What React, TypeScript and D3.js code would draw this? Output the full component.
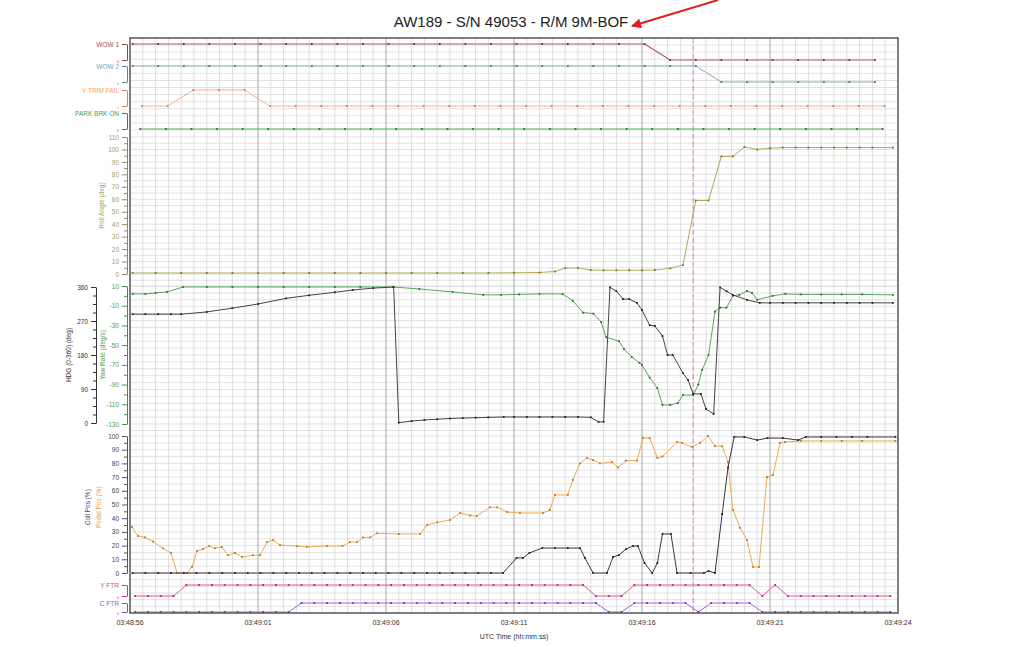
import React, { useEffect, useRef } from "react";
import * as d3 from "d3";

const TITLE = "AW189 - S/N 49053 - R/M 9M-BOF";
const X_TICKS = [0, 5, 10, 15, 20, 25, 30];
const X_TICK_LABELS = ["03:48:56", "03:49:01", "03:49:06", "03:49:11", "03:49:16", "03:49:21", "03:49:24"];
const X_TITLE = "UTC Time (hh:mm:ss)";
const EVENT_T = 22;

// discrete signals, 1 Hz (start time, values)
const WOW1_T0 = 0.1;
const WOW1 = [1,1,1,1,1,1,1,1,1,1,1,1,1,1,1,1,1,1,1,1,1,0,0,0,0,0,0,0,0,0];
const WOW2_T0 = 0.1;
const WOW2 = [1,1,1,1,1,1,1,1,1,1,1,1,1,1,1,1,1,1,1,1,1,1,1,0,0,0,0,0,0,0];
const YTRIM_T0 = 0.47;
const YTRIM = [0,0,1,1,1,0,0,0,0,0,0,0,0,0,0,0,0,0,0,0,0,0,0,0,0,0,0,0,0,0];
const PARK_T0 = 0.4;
const PARK = [0,0,0,0,0,0,0,0,0,0,0,0,0,0,0,0,0,0,0,0,0,0,0,0,0,0,0,0,0,0];
// discrete signals, 2 Hz
const FTR_T0 = 0.2;
const YFTR = [0,0,0,0,1,1,1,1,1,1,1,1,1,1,1,1,1,1,1,1,1,1,1,1,1,1,1,1,1,1,1,1,1,1,1,1,0,0,0,1,1,1,1,1,1,1,1,1,1,0,1,0,0,0,0,0,0,0,0,0];
const CFTR = [0,0,0,0,0,0,0,0,0,0,0,0,0,1,1,1,1,1,1,1,1,1,1,1,1,1,1,1,1,1,1,1,1,1,1,1,1,0,0,1,1,1,1,1,0,1,1,1,1,0,0,0,0,0,0,0,0,0,0,0];

// continuous signals [t (s), value]
const ROLL: [number, number][] = [
  [0.1,0.8],[1,0.8],[2,0.8],[3,0.8],[4,0.8],[5,0.8],[6,0.8],[7,0.8],[8,0.8],[9,0.8],[10,0.8],[11,0.8],[12,0.8],[13,0.8],[14,0.8],[15,1],[16,1.2],[16.6,2],[17.0,4.8],[17.5,4.8],[18.0,3.2],[18.5,3],[19,3],[19.5,3],[20,3],[20.5,3.2],[21.1,4.5],[21.6,7.2],[22.1,59],[22.6,59],[23.1,94.4],[23.55,94.4],[24.0,102],[24.5,100],[25.0,101],[25.5,101.5],[26,101.5],[26.5,101.5],[27,101.5],[27.5,101.5],[28,101.5],[28.5,101.5],[29,101.5],[29.8,101.5]
];
const HDG: [number, number][] = [
  [0.1,288],[0.6,288],[1.1,288],[1.6,288],[2.0,288],[3.0,294],[4.0,304],[5.0,315],[6.1,330],[7.0,338],[8.0,346],[8.7,352],[9.5,357],[10.3,360],[10.5,1],[11.0,5],[11.5,8],[12.0,10],[12.5,12],[13.0,13],[13.5,14],[14.0,15],[14.6,16],[15.0,16],[15.5,16],[16.0,16],[16.5,16],[17.0,16],[17.5,16],[18.0,15],[18.3,3],[18.5,3],[18.75,359],[19.0,349],[19.26,328],[19.5,328],[19.8,318],[20.0,299],[20.3,259],[20.5,257],[20.8,230],[21.0,180],[21.2,180],[21.6,132],[21.8,114],[22.0,77],[22.3,77],[22.5,37],[22.8,24],[23.05,359],[23.3,349],[23.55,339],[24.1,326],[24.6,318],[25.0,318],[25.5,318],[26,318],[26.5,318],[27,318],[27.5,318],[28,318],[28.5,318],[29,318],[29.8,318]
];
const YAW: [number, number][] = [
  [0.1,2],[0.6,2],[1.0,3],[1.45,4],[2.07,9],[3,9],[4,9],[5,9],[6,9],[7,9],[8,9],[9,9],[10.27,9],[11.3,7],[12.6,4],[13.8,1],[14.5,1],[15.2,1.5],[16.0,2],[16.9,2],[17.3,-5],[17.7,-17],[18.1,-18],[18.4,-26.5],[18.6,-42],[19.1,-46],[19.3,-54],[19.6,-62],[19.9,-68],[20.0,-70],[20.3,-83],[20.6,-93.5],[20.8,-110.7],[21.1,-110.7],[21.4,-108.7],[21.6,-100.6],[22.0,-100.6],[22.2,-90],[22.35,-75],[22.6,-60],[22.85,-16],[23.05,-12],[23.3,-12],[23.55,0],[23.8,1],[24.1,5],[24.3,3],[24.5,-4],[25.1,0],[25.6,2],[26.2,1.5],[27,1.5],[27.8,1.5],[28.6,1.5],[29.8,1]
];
const PEDAL: [number, number][] = [
  [0.08,33.6],[0.31,27],[0.59,26],[0.9,23],[1.29,18],[1.6,14.6],[1.84,0],[2.23,0],[2.42,4.4],[2.62,16],[2.85,17.5],[3.09,19.7],[3.32,18],[3.59,19],[3.83,13],[4.1,14.6],[4.38,11.7],[4.8,13],[5.08,13],[5.35,22.6],[5.59,24],[5.86,20.4],[6.52,19.7],[6.91,19],[7.7,19.7],[8.3,19.7],[8.59,22.6],[8.87,22.6],[9.1,26],[9.38,26],[9.65,29],[10.5,28.5],[11.33,28.5],[11.6,35],[12.0,37],[12.5,38.7],[12.9,43.8],[13.28,42],[13.55,41.6],[14.06,48],[14.34,48],[14.73,44.5],[15.23,43.8],[16.13,43.8],[16.4,46],[16.6,57],[17.1,57],[17.3,68],[17.58,80],[17.85,84],[18.09,82.5],[18.36,80],[18.83,81],[19.06,77],[19.38,82],[19.8,82],[20.04,98.5],[20.3,98.5],[20.6,84],[20.8,85],[21.37,95.6],[21.56,95],[21.95,92],[22.27,95],[22.58,100],[22.85,92.7],[23.13,92.7],[23.36,81],[23.55,46],[23.83,33],[24.1,24],[24.34,4.4],[24.57,4.4],[24.88,70],[25.12,71.5],[25.39,95],[25.59,95.6],[26.2,96.4],[27,96.4],[27.8,96.4],[28.6,96.4],[29.9,96.4]
];
const COLL: [number, number][] = [
  [0.1,0],[0.6,0],[1.1,0],[1.6,0],[2.1,0],[2.6,0],[3.1,0],[3.6,0],[4.1,0],[4.6,0],[5.1,0],[5.6,0],[6.1,0],[6.6,0],[7.1,0],[7.6,0],[8.1,0],[8.6,0],[9.1,0],[9.6,0],[10.1,0],[10.6,0],[11.1,0],[11.6,0],[12.1,0],[12.6,0],[13.1,0],[13.6,0],[14.1,0],[14.57,0],[15.1,11],[15.35,11],[15.6,14.6],[16.1,18.2],[16.6,18.2],[17.1,18.2],[17.58,18.2],[17.77,11],[18.09,0],[18.63,0],[18.87,11.7],[19.1,13.1],[19.38,17.5],[19.65,19.7],[19.84,19.7],[20.1,7.3],[20.4,0],[20.6,7.3],[20.8,28.5],[21.13,28.5],[21.37,0],[21.9,0],[22.42,0],[22.6,1.5],[22.85,0],[23.13,43],[23.36,77],[23.6,99.3],[24.0,99.3],[24.5,97],[24.9,98.5],[25.5,98.5],[26.1,97],[26.4,99.3],[27,99.3],[27.6,99.3],[28.2,99.3],[28.8,99.3],[29.9,99.3]
];

const FONT = "'Liberation Sans', Arial, sans-serif";
const PL = 130, PR = 898, PT = 38, PB = 613;

export default function App() {
  const ref = useRef<SVGSVGElement>(null);

  useEffect(() => {
    const svg = d3.select(ref.current);
    svg.selectAll("*").remove();
    svg.style("font-family", FONT);

    const x = d3.scaleLinear().domain([0, 30]).range([PL, PR]);

    const yWow1 = d3.scaleLinear().domain([0, 1]).range([60, 44]);
    const yWow2 = d3.scaleLinear().domain([0, 1]).range([82, 66]);
    const yTrim = d3.scaleLinear().domain([0, 1]).range([106, 90]);
    const yPark = d3.scaleLinear().domain([0, 1]).range([129, 113]);
    const yRoll = d3.scaleLinear().domain([0, 110]).range([274, 137]);
    const yHdg = d3.scaleLinear().domain([0, 360]).range([423, 287]);
    const yYaw = d3.scaleLinear().domain([-130, 10]).range([424, 286]);
    const yPos = d3.scaleLinear().domain([0, 100]).range([573, 436]);
    const yYftr = d3.scaleLinear().domain([0, 1]).range([596, 585]);
    const yCftr = d3.scaleLinear().domain([0, 1]).range([612, 603]);
    const yTopGrid = d3.scaleLinear().domain([0, 14]).range([PT, 137]);
    const yBotGrid = d3.scaleLinear().domain([0, 6]).range([573, PB]);

    const g = svg.append("g");

    // Horizontal grid
    const hLines: number[] = [];
    d3.range(1, 14).forEach((i) => hLines.push(yTopGrid(i)));
    d3.range(0, 111, 5).forEach((v) => hLines.push(yRoll(v)));
    hLines.push(yRoll(-5), yRoll(-10));
    d3.range(-130, 11, 7).forEach((v) => hLines.push(yYaw(v)));
    hLines.push(yPos(104));
    d3.range(0, 101, 5).forEach((v) => hLines.push(yPos(v)));
    d3.range(1, 6).forEach((i) => hLines.push(yBotGrid(i)));
    g.append("g")
      .selectAll("line")
      .data(hLines)
      .join("line")
      .attr("x1", PL).attr("x2", PR)
      .attr("y1", (d) => d).attr("y2", (d) => d)
      .attr("stroke", "#d6d6d6").attr("stroke-width", 0.7);

    // vertical grid
    g.append("g")
      .selectAll("line")
      .data(d3.range(0.5, 30, 0.5).filter((t) => t % 5 !== 0))
      .join("line")
      .attr("x1", (d) => x(d)).attr("x2", (d) => x(d))
      .attr("y1", PT).attr("y2", PB)
      .attr("stroke", "#d0d0d0").attr("stroke-width", 0.7);
    g.append("g")
      .selectAll("line")
      .data([5, 10, 15, 20, 25])
      .join("line")
      .attr("x1", (d) => x(d)).attr("x2", (d) => x(d))
      .attr("y1", PT).attr("y2", PB)
      .attr("stroke", "#9c9c9c").attr("stroke-width", 0.9);

    // event dashed line
    g.append("line")
      .attr("x1", x(EVENT_T)).attr("x2", x(EVENT_T))
      .attr("y1", PT).attr("y2", PB)
      .attr("stroke", "#e07cc4").attr("stroke-width", 1)
      .attr("stroke-dasharray", "5,3");

    // series drawing helper
    const drawSeries = (
      pts: [number, number][],
      ys: d3.ScaleLinear<number, number>,
      color: string,
      marker: string,
      width = 1
    ) => {
      const line = d3.line<[number, number]>().x((d) => x(d[0])).y((d) => ys(d[1]));
      g.append("path")
        .attr("d", line(pts))
        .attr("fill", "none")
        .attr("stroke", color)
        .attr("stroke-width", width)
        .attr("stroke-linejoin", "round");
      g.append("g")
        .selectAll("rect")
        .data(pts)
        .join("rect")
        .attr("x", (d) => x(d[0]) - 0.9)
        .attr("y", (d) => ys(d[1]) - 0.9)
        .attr("width", 1.8).attr("height", 1.8)
        .attr("fill", marker);
    };
    const disc = (vals: number[], t0: number, dt: number): [number, number][] =>
      vals.map((v, i) => [t0 + i * dt, v]);

    drawSeries(disc(WOW1, WOW1_T0, 1), yWow1, "#b05a5a", "#6a3030", 1.1);
    drawSeries(disc(WOW2, WOW2_T0, 1), yWow2, "#86aeb9", "#50707a");
    drawSeries(disc(YTRIM, YTRIM_T0, 1), yTrim, "#f4b487", "#c08060");
    drawSeries(disc(PARK, PARK_T0, 1), yPark, "#4caf50", "#2a702a");
    drawSeries(ROLL, yRoll, "#b2aa52", "#7a7430");
    drawSeries(YAW, yYaw, "#55aa55", "#2e702e");
    drawSeries(HDG, yHdg, "#444444", "#222222");
    drawSeries(PEDAL, yPos, "#f0aa50", "#b87a30");
    drawSeries(COLL, yPos, "#3c3446", "#221c2a");
    drawSeries(disc(YFTR, FTR_T0, 0.5), yYftr, "#e84ea6", "#a02c70");
    drawSeries(disc(CFTR, FTR_T0, 0.5), yCftr, "#a85ee0", "#6a30a0");

    // frame
    g.append("rect")
      .attr("x", PL).attr("y", PT)
      .attr("width", PR - PL).attr("height", PB - PT)
      .attr("fill", "none").attr("stroke", "#555").attr("stroke-width", 1.5);

    // axes
    const AX = PL - 3;
    const styleAxis = (sel: d3.Selection<SVGGElement, unknown, null, undefined>, color: string, lineColor = "#666") => {
      sel.selectAll("path").attr("stroke", lineColor).attr("stroke-width", 1);
      sel.selectAll("line").attr("stroke", lineColor);
      sel.selectAll("text").attr("fill", color).style("font-size", "6.5px").style("font-family", FONT);
    };
    const numAxis = (
      ys: d3.ScaleLinear<number, number>,
      major: number[],
      minor: number[],
      ax: number,
      color: string,
      lineColor: string
    ) => {
      const a = svg.append("g").attr("transform", `translate(${ax},0)`)
        .call(d3.axisLeft(ys).tickValues(major).tickSize(5).tickSizeOuter(0).tickFormat((d) => String(d)) as any);
      styleAxis(a as any, color, lineColor);
      const m = svg.append("g").attr("transform", `translate(${ax},0)`)
        .call(d3.axisLeft(ys).tickValues(minor).tickSize(3).tickSizeOuter(0).tickFormat(() => "") as any);
      m.select("path").remove();
      m.selectAll("line").attr("stroke", lineColor);
    };

    numAxis(yRoll, d3.range(0, 111, 10), d3.range(5, 110, 10), AX, "#a8a050", "#8a8a6a");
    numAxis(yYaw, d3.range(-130, 11, 20), d3.range(-120, 10, 20), AX, "#4ca04c", "#4c8a4c");
    numAxis(yHdg, [0, 90, 180, 270, 360], [22.5, 45, 67.5, 112.5, 135, 157.5, 202.5, 225, 247.5, 292.5, 315, 337.5], 96, "#333", "#333");
    numAxis(yPos, d3.range(0, 101, 10), d3.range(5, 100, 10), AX, "#444", "#555");

    const laneAxis = (ys: d3.ScaleLinear<number, number>, name: string, color: string, lineColor: string) => {
      const a = svg.append("g").attr("transform", `translate(${AX},0)`)
        .call(d3.axisLeft(ys).tickValues([0, 1]).tickSize(5).tickSizeOuter(0)
          .tickFormat((d) => (d === 1 ? name : "0")) as any);
      styleAxis(a as any, color, lineColor);
      a.selectAll("text").filter((d: any) => d === 0).style("font-size", "4px").attr("dy", "0.6em");
    };
    laneAxis(yWow1, "WOW 1", "#b04848", "#7a5050");
    laneAxis(yWow2, "WOW 2", "#6aa4bc", "#5a8898");
    laneAxis(yTrim, "Y TRIM FAIL", "#f0a070", "#d08860");
    laneAxis(yPark, "PARK BRK ON", "#3f9f3f", "#3f803f");
    laneAxis(yYftr, "Y FTR", "#e040a0", "#b04080");
    laneAxis(yCftr, "C FTR", "#a050d8", "#8050b0");

    // axis titles
    const vTitle = (label: string, cx: number, cy: number, color: string) => {
      svg.append("text")
        .attr("transform", `translate(${cx},${cy}) rotate(-90)`)
        .attr("text-anchor", "middle")
        .style("font-size", "6.5px")
        .attr("fill", color)
        .text(label);
    };
    vTitle("Roll Angle (deg)", 104, yRoll(55), "#a8a050");
    vTitle("HDG (0-360) (deg)", 71, yHdg(180), "#333");
    vTitle("Yaw Rate (deg/s)", 105, yHdg(180), "#4ca04c");
    vTitle("Coll Pos (%)", 90, yPos(48), "#4a3a5a");
    vTitle("Pedal Pos (%)", 101, yPos(48), "#f0a040");

    // x axis labels
    svg.append("g")
      .selectAll("text")
      .data(X_TICKS)
      .join("text")
      .attr("x", (d) => x(d))
      .attr("y", 625)
      .attr("text-anchor", "middle")
      .style("font-size", "7px")
      .attr("fill", "#333")
      .text((_, i) => X_TICK_LABELS[i]);
    svg.append("text")
      .attr("x", (PL + PR) / 2)
      .attr("y", 639)
      .attr("text-anchor", "middle")
      .style("font-size", "7px")
      .attr("fill", "#333")
      .text(X_TITLE);

    // title
    svg.append("text")
      .attr("x", 511)
      .attr("y", 27)
      .attr("text-anchor", "middle")
      .style("font-size", "15px")
      .attr("fill", "#222")
      .text(TITLE);

    // red arrow
    const defs = svg.append("defs");
    defs.append("marker")
      .attr("id", "arrowhead")
      .attr("viewBox", "0 0 10 10")
      .attr("refX", 9).attr("refY", 5)
      .attr("markerWidth", 6).attr("markerHeight", 5)
      .attr("orient", "auto")
      .append("path")
      .attr("d", "M0,0 L10,5 L0,10 Z")
      .attr("fill", "#e02020");
    svg.append("line")
      .attr("x1", 718).attr("y1", 0)
      .attr("x2", 632).attr("y2", 26)
      .attr("stroke", "#e02020").attr("stroke-width", 2)
      .attr("marker-end", "url(#arrowhead)");
  }, []);

  return (
    <svg
      ref={ref}
      width={1024}
      height={647}
      style={{ position: "absolute", left: 0, top: 0, background: "#fff" }}
    />
  );
}
